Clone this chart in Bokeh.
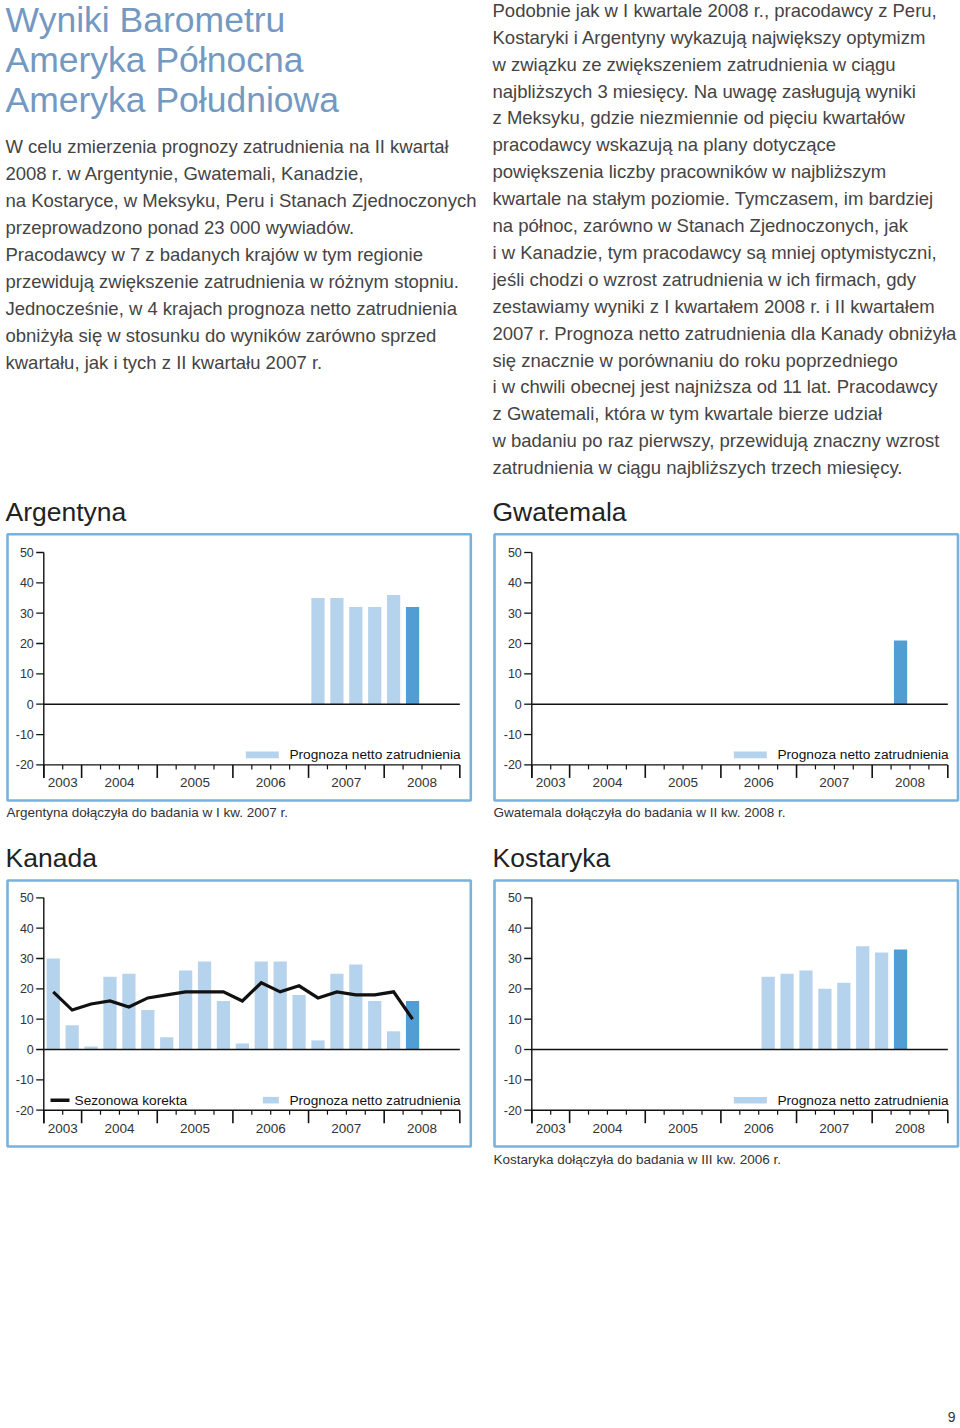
from bokeh.plotting import figure
from bokeh.models import Range1d
from bokeh.layouts import column, row
from bokeh.embed import file_html
from bokeh.resources import INLINE
from bokeh.core.properties import value

# ---------------- data ----------------
years = ["2003", "2004", "2005", "2006", "2007", "2008"]
quarters_per_year = [2, 4, 4, 4, 4, 4]
quarters = ["2003 III", "2003 IV",
            "2004 I", "2004 II", "2004 III", "2004 IV",
            "2005 I", "2005 II", "2005 III", "2005 IV",
            "2006 I", "2006 II", "2006 III", "2006 IV",
            "2007 I", "2007 II", "2007 III", "2007 IV",
            "2008 I", "2008 II"]
y_ticks = [50, 40, 30, 20, 10, 0, -10, -20]

argentina_start = "2007 I"
argentina_forecast = [35, 35, 32, 32, 36, 32]

guatemala_start = "2008 II"
guatemala_forecast = [21]

canada_start = "2003 III"
canada_forecast = [30, 8, 1, 24, 25, 13, 4, 26, 29, 16, 2, 29, 29, 18, 3, 25, 28, 16, 6, 16]
canada_adjusted = [19, 13, 15, 16, 14, 17, 18, 19, 19, 19, 16, 22, 19, 21, 17, 19, 18, 18, 19, 10]

costa_rica_start = "2006 III"
costa_rica_forecast = [24, 25, 26, 20, 22, 34, 32, 33]

legend_forecast = "Prognoza netto zatrudnienia"
legend_adjusted = "Sezonowa korekta"

title_lines = ["Wyniki Barometru", "Ameryka Północna", "Ameryka Południowa"]
left_text = [
    "W celu zmierzenia prognozy zatrudnienia na II kwartał",
    "2008 r. w Argentynie, Gwatemali, Kanadzie,",
    "na Kostaryce, w Meksyku, Peru i Stanach Zjednoczonych",
    "przeprowadzono ponad 23 000 wywiadów.",
    "Pracodawcy w 7 z badanych krajów w tym regionie",
    "przewidują zwiększenie zatrudnienia w różnym stopniu.",
    "Jednocześnie, w 4 krajach prognoza netto zatrudnienia",
    "obniżyła się w stosunku do wyników zarówno sprzed",
    "kwartału, jak i tych z II kwartału 2007 r.",
]
right_text = [
    "Podobnie jak w I kwartale 2008 r., pracodawcy z Peru,",
    "Kostaryki i Argentyny wykazują największy optymizm",
    "w związku ze zwiększeniem zatrudnienia w ciągu",
    "najbliższych 3 miesięcy. Na uwagę zasługują wyniki",
    "z Meksyku, gdzie niezmiennie od pięciu kwartałów",
    "pracodawcy wskazują na plany dotyczące",
    "powiększenia liczby pracowników w najbliższym",
    "kwartale na stałym poziomie. Tymczasem, im bardziej",
    "na północ, zarówno w Stanach Zjednoczonych, jak",
    "i w Kanadzie, tym pracodawcy są mniej optymistyczni,",
    "jeśli chodzi o wzrost zatrudnienia w ich firmach, gdy",
    "zestawiamy wyniki z I kwartałem 2008 r. i II kwartałem",
    "2007 r. Prognoza netto zatrudnienia dla Kanady obniżyła",
    "się znacznie w porównaniu do roku poprzedniego",
    "i w chwili obecnej jest najniższa od 11 lat. Pracodawcy",
    "z Gwatemali, która w tym kwartale bierze udział",
    "w badaniu po raz pierwszy, przewidują znaczny wzrost",
    "zatrudnienia w ciągu najbliższych trzech miesięcy.",
]
page_number = "9"

# ---------------- style ----------------
FONT = value("Liberation Sans")
LIGHT = "#b6d3ed"
DARK = "#529dd4"
BOX = "#79b2dc"
TITLE_BLUE = "#7399c2"
TXT = "#444444"
PPQ = 18.91   # px per quarter
PPU = 3.034   # px per unit


def base_fig(w, h, xr, yr):
    p = figure(width=w, height=h, x_range=xr, y_range=yr, output_backend="svg",
               toolbar_location=None, min_border=0, x_axis_type=None, y_axis_type=None)
    p.min_border_left = p.min_border_right = p.min_border_top = p.min_border_bottom = 0
    p.outline_line_color = None
    p.background_fill_color = "white"
    p.border_fill_color = "white"
    p.title.visible = False
    return p


def make_chart(w, h, axis_px, y50_px, title, title_x, title_mid, box, caption, cap_x, cap_mid,
               start, forecast, adjusted=None, swatch_w=33):
    def X(px):
        return (px - axis_px) / PPQ

    def Y(py):
        return 50 - (py - y50_px) / PPU

    p = base_fig(w, h, Range1d(X(0), X(w)), Range1d(Y(h), Y(0)))
    n_q = sum(quarters_per_year)
    bounds = [0]
    for q in quarters_per_year:
        bounds.append(bounds[-1] + q)
    # box
    bl, br, bt, bb = box
    p.quad(left=[X(bl)], right=[X(br)], top=[Y(bt)], bottom=[Y(bb)],
           fill_color=None, line_color=BOX, line_width=2.6)
    # title & caption
    p.text(x=[X(title_x)], y=[Y(title_mid)], text=[title], text_font=FONT,
           text_font_size="26.5px", text_color="#222222", text_baseline="middle")
    if caption:
        p.text(x=[X(cap_x)], y=[Y(cap_mid)], text=[caption], text_font=FONT,
               text_font_size="13.5px", text_color="#333333", text_baseline="middle")
    # bars
    i0 = quarters.index(start)
    xs = [i0 + k + 0.5 for k in range(len(forecast))]
    colors = [LIGHT] * (len(forecast) - 1) + [DARK]
    p.vbar(x=xs, top=forecast, bottom=0, width=0.7, color=colors, line_color=None)
    if adjusted is not None:
        p.line(x=xs, y=adjusted, line_color="#111111", line_width=3.2, line_join="miter")
    # zero line and x axis line
    p.segment(x0=[0, 0], y0=[0, -20], x1=[n_q, n_q], y1=[0, -20], line_color="#111111", line_width=1.4)
    # y axis
    tall = 13 / PPU
    p.segment(x0=[0], y0=[max(y_ticks)], x1=[0], y1=[-20 - tall], line_color="#111111", line_width=1.4)
    p.segment(x0=[-7.6 / PPQ] * len(y_ticks), y0=y_ticks, x1=[0] * len(y_ticks), y1=y_ticks,
              line_color="#111111", line_width=1.3)
    p.text(x=[-10 / PPQ] * len(y_ticks), y=y_ticks, text=[str(t) for t in y_ticks], text_font=FONT,
           text_font_size="12.5px", text_color="#333333", text_align="right", text_baseline="middle")
    # x ticks
    small = [q for q in range(n_q + 1) if q not in bounds]
    p.segment(x0=bounds, y0=[-20] * len(bounds), x1=bounds, y1=[-20 - tall] * len(bounds),
              line_color="#111111", line_width=1.6)
    p.segment(x0=small, y0=[-20] * len(small), x1=small, y1=[-20 - 4.5 / PPU] * len(small),
              line_color="#111111", line_width=1.2)
    centers = [(bounds[k] + bounds[k + 1]) / 2 for k in range(len(years))]
    p.text(x=centers, y=[-20 - 18 / PPU] * len(years), text=years, text_font=FONT,
           text_font_size="13.5px", text_color="#333333", text_align="center", text_baseline="middle")
    # legend
    ly = -20 + 10 / PPU
    p.text(x=[n_q + 0.8 / PPQ], y=[ly], text=[legend_forecast], text_font=FONT, text_font_size="13.7px",
           text_color="#111111", text_align="right", text_baseline="middle")
    sr = n_q - 181 / PPQ
    p.quad(left=[sr - swatch_w / PPQ], right=[sr], top=[ly + 3.3 / PPU], bottom=[ly - 3.3 / PPU],
           color=LIGHT, line_color=None)
    if adjusted is not None:
        p.segment(x0=[6.7 / PPQ], y0=[ly], x1=[25.7 / PPQ], y1=[ly], line_color="#111111", line_width=3.6)
        p.text(x=[30.7 / PPQ], y=[ly], text=[legend_adjusted], text_font=FONT, text_font_size="13.7px",
               text_color="#111111", text_align="left", text_baseline="middle")
    return p


# ---------------- top text block ----------------
W = 960
top = base_fig(W, 496, Range1d(0, 960), Range1d(496, 0))
top.text(x=[5] * 3, y=[19, 59, 99], text=title_lines, text_font=FONT, text_font_size="35.5px",
         text_color=TITLE_BLUE, text_baseline="middle")
top.text(x=[5] * len(left_text), y=[146 + 27 * k for k in range(len(left_text))], text=left_text,
         text_font=FONT, text_font_size="18.5px", text_color=TXT, text_baseline="middle")
top.text(x=[492] * len(right_text), y=[9.8 + 26.9 * k for k in range(len(right_text))], text=right_text,
         text_font=FONT, text_font_size="18.5px", text_color=TXT, text_baseline="middle")

# ---------------- charts ----------------
LW, RW = 484, 476
arg = make_chart(LW, 330, 43.3, 56, "Argentyna", 5, 15.2, (7, 470.3, 37.7, 304),
                 "Argentyna dołączyła do badania w I kw. 2007 r.", 6, 316.2,
                 argentina_start, argentina_forecast)
gua = make_chart(RW, 330, 47.3, 56, "Gwatemala", 8, 15.2, (10, 473.5, 37.7, 304),
                 "Gwatemala dołączyła do badania w II kw. 2008 r.", 9, 316.2,
                 guatemala_start, guatemala_forecast)
can = make_chart(LW, 346, 43.3, 71.3, "Kanada", 5, 31.5, (7, 470.3, 54, 320),
                 None, 6, 333.2, canada_start, canada_forecast, canada_adjusted, swatch_w=16)
cri = make_chart(RW, 346, 47.3, 71.3, "Kostaryka", 8, 31.5, (10, 473.5, 54, 320),
                 "Kostaryka dołączyła do badania w III kw. 2006 r.", 9, 333.2,
                 costa_rica_start, costa_rica_forecast)

# ---------------- bottom ----------------
bot = base_fig(W, 255, Range1d(0, 960), Range1d(1427, 1172))
bot.text(x=[955], y=[1416.5], text=[page_number], text_font=FONT, text_font_size="14px",
         text_color="#333333", text_align="right", text_baseline="middle")

layout = column(top, row(arg, gua), row(can, cri), bot)
open("out.html", "w").write(file_html(layout, INLINE))
